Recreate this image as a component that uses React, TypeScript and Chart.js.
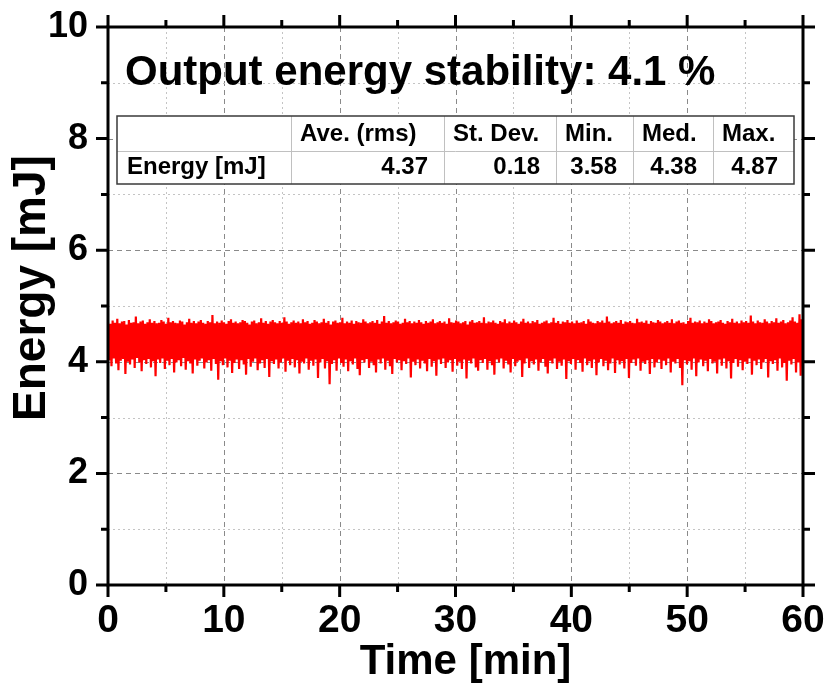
import React, { useEffect, useRef } from "react";
import { Chart, registerables } from "chart.js";

Chart.register(...registerables);

// Upper excursions of the pulse-energy trace (mJ), in time order
const peaks = [
  4.71, 4.68, 4.74, 4.70, 4.77, 4.69, 4.72, 4.73, 4.67, 4.75, 4.70, 4.71, 4.81, 4.69, 4.72, 4.74, 4.68, 4.71, 4.76, 4.70,
  4.73, 4.69, 4.70, 4.75, 4.72, 4.68, 4.79, 4.71, 4.73, 4.70, 4.69, 4.74, 4.72, 4.67, 4.71, 4.77, 4.70, 4.73, 4.69, 4.72,
  4.75, 4.70, 4.68, 4.73, 4.71, 4.84, 4.69, 4.72, 4.70, 4.74, 4.71, 4.68, 4.73, 4.76, 4.70, 4.72, 4.69, 4.71, 4.75, 4.73,
  4.70, 4.67, 4.72, 4.74, 4.69, 4.71, 4.78, 4.70, 4.73, 4.68, 4.72, 4.75, 4.71, 4.69, 4.73, 4.70, 4.80, 4.72, 4.68, 4.71,
  4.74, 4.70, 4.72, 4.69, 4.76, 4.71, 4.73, 4.68, 4.70, 4.75, 4.72, 4.69, 4.71, 4.77, 4.70, 4.73, 4.67, 4.72, 4.74, 4.70,
  4.71, 4.79, 4.69, 4.72, 4.70, 4.74, 4.68, 4.73, 4.71, 4.70, 4.76, 4.72, 4.69, 4.71, 4.73, 4.70, 4.75, 4.68, 4.72, 4.82,
  4.70, 4.73, 4.69, 4.71, 4.74, 4.72, 4.68, 4.70, 4.77, 4.71, 4.73, 4.69, 4.72, 4.70, 4.75, 4.71, 4.68, 4.73, 4.70, 4.72,
  4.76, 4.69, 4.71, 4.73, 4.70, 4.72, 4.68, 4.78, 4.71, 4.70, 4.74, 4.72, 4.69, 4.71, 4.73, 4.67, 4.72, 4.75, 4.70, 4.71,
  4.73, 4.70, 4.80, 4.69, 4.72, 4.71, 4.74, 4.70, 4.68, 4.73, 4.71, 4.76, 4.69, 4.72, 4.70, 4.74, 4.71, 4.68, 4.72, 4.77,
  4.70, 4.72, 4.69, 4.73, 4.71, 4.75, 4.68, 4.70, 4.72, 4.74, 4.69, 4.71, 4.79, 4.70, 4.73, 4.68, 4.72, 4.71, 4.75, 4.70,
  4.72, 4.69, 4.74, 4.70, 4.71, 4.73, 4.68, 4.76, 4.72, 4.70, 4.69, 4.73, 4.71, 4.74, 4.70, 4.81, 4.72, 4.69, 4.71, 4.73,
  4.70, 4.75, 4.68, 4.72, 4.71, 4.73, 4.70, 4.69, 4.77, 4.71, 4.72, 4.70, 4.74, 4.68, 4.73, 4.71, 4.70, 4.75, 4.72, 4.69,
  4.71, 4.73, 4.70, 4.76, 4.69, 4.72, 4.74, 4.70, 4.71, 4.68, 4.73, 4.79, 4.70, 4.72, 4.71, 4.74, 4.69, 4.72, 4.70, 4.76,
  4.73, 4.69, 4.71, 4.72, 4.75, 4.70, 4.68, 4.73, 4.71, 4.77, 4.70, 4.72, 4.69, 4.74, 4.71, 4.73, 4.70, 4.83, 4.72, 4.69,
  4.74, 4.71, 4.70, 4.76, 4.72, 4.69, 4.73, 4.71, 4.78, 4.70, 4.72, 4.75, 4.69, 4.71, 4.74, 4.80, 4.72, 4.70, 4.85, 4.76,
];

// Lower excursions of the pulse-energy trace (mJ), in time order
const troughs = [
  4.03, 3.92, 4.06, 3.97, 3.85, 4.02, 4.05, 3.78, 4.00, 3.95, 4.04, 3.89, 4.07, 3.99, 3.83, 4.03, 3.96, 4.05, 3.90, 4.01,
  3.74, 4.04, 3.98, 4.06, 3.87, 4.02, 3.94, 4.05, 3.81, 3.99, 4.03, 3.92, 4.07, 3.86, 4.01, 3.97, 3.79, 4.04, 3.93, 4.02,
  4.06, 3.88, 3.99, 4.03, 3.84, 4.05, 3.96, 3.68, 4.01, 3.94, 4.06, 3.90, 4.02, 3.80, 3.98, 4.04, 3.87, 4.03, 3.95, 3.77,
  4.05, 3.91, 4.00, 4.06, 3.85, 3.97, 4.03, 3.89, 4.05, 3.73, 4.01, 3.96, 4.04, 3.88, 3.99, 4.06, 3.82, 4.02, 3.94, 4.05,
  3.90, 4.03, 3.79, 4.00, 3.97, 4.06, 3.86, 4.02, 3.93, 4.04, 3.71, 3.99, 4.05, 3.88, 4.01, 3.60, 3.96, 4.03, 3.84, 4.06,
  3.98, 3.91, 4.04, 3.83, 4.01, 3.95, 4.06, 3.87, 3.76, 4.03, 3.99, 4.05, 3.89, 4.00, 3.94, 3.81, 4.04, 3.97, 4.06, 3.86,
  4.02, 3.92, 3.78, 4.05, 3.99, 4.03, 3.85, 4.01, 3.96, 4.06, 3.72, 4.00, 3.94, 4.04, 3.88, 4.02, 3.97, 3.83, 4.05, 3.91,
  4.01, 3.75, 4.04, 3.96, 4.06, 3.89, 3.99, 4.03, 3.82, 4.05, 3.93, 4.00, 3.87, 4.04, 3.70, 4.02, 3.97, 4.06, 3.90, 3.84,
  4.03, 3.98, 4.05, 3.86, 4.01, 3.94, 3.77, 4.04, 3.99, 4.06, 3.88, 4.02, 3.95, 3.81, 4.05, 3.92, 4.00, 4.03, 3.73, 3.97,
  4.06, 3.89, 4.01, 3.95, 4.04, 3.84, 3.99, 4.05, 3.91, 3.79, 4.02, 3.97, 4.06, 3.87, 4.00, 3.93, 4.04, 3.69, 4.01, 3.96,
  4.05, 3.86, 4.03, 3.98, 3.82, 4.06, 3.94, 4.01, 3.89, 4.04, 3.76, 3.99, 4.05, 3.92, 4.02, 3.85, 3.97, 4.06, 3.80, 4.03,
  3.95, 4.01, 3.88, 4.05, 3.71, 3.98, 4.04, 3.93, 4.06, 3.84, 4.00, 3.96, 4.03, 3.78, 4.05, 3.90, 3.99, 4.04, 3.87, 4.02,
  3.94, 4.06, 3.81, 4.00, 3.97, 4.05, 3.89, 3.58, 4.03, 3.95, 4.01, 3.86, 4.06, 3.74, 3.99, 4.04, 3.92, 4.02, 3.83, 4.05,
  3.97, 4.00, 3.79, 4.04, 3.93, 4.06, 3.88, 4.01, 3.70, 3.98, 4.05, 3.91, 4.03, 3.85, 4.00, 3.96, 4.06, 3.77, 4.02, 3.94,
  4.04, 3.87, 3.99, 4.05, 3.72, 4.01, 3.96, 4.03, 3.84, 4.06, 3.90, 3.98, 3.66, 4.02, 3.95, 4.05, 3.81, 3.99, 3.75, 3.92,
];

const durationMin = 60;
const xMajorStep = 10;
const xMinorStep = 5;
const yMax = 10;
const yMajorStep = 2;
const yMinorStep = 1;

const tableHeaders = ["", "Ave. (rms)", "St. Dev.", "Min.", "Med.", "Max."];
const tableRow = ["Energy [mJ]", "4.37", "0.18", "3.58", "4.38", "4.87"];

const titleText = "Output energy stability: 4.1 %";
const xTitle = "Time [min]";
const yTitle = "Energy [mJ]";

const FONT = "'Liberation Sans', Arial, sans-serif";

const decorPlugin = {
  id: "decor",
  beforeDatasetsDraw(chart: any) {
    const { ctx, chartArea: a, scales } = chart;
    const x = scales.x;
    const y = scales.y;
    ctx.save();
    ctx.lineWidth = 1;
    for (let v = xMinorStep; v < durationMin; v += xMinorStep) {
      const px = Math.round(x.getPixelForValue(v)) + 0.5;
      const major = v % xMajorStep === 0;
      ctx.strokeStyle = major ? "#8a8a8a" : "#c4c4c4";
      ctx.setLineDash(major ? [5, 4] : [2, 3]);
      ctx.beginPath();
      ctx.moveTo(px, a.top);
      ctx.lineTo(px, a.bottom);
      ctx.stroke();
    }
    for (let v = yMinorStep; v < yMax; v += yMinorStep) {
      const py = Math.round(y.getPixelForValue(v)) + 0.5;
      const major = v % yMajorStep === 0;
      ctx.strokeStyle = major ? "#8a8a8a" : "#c4c4c4";
      ctx.setLineDash(major ? [5, 4] : [2, 3]);
      ctx.beginPath();
      ctx.moveTo(a.left, py);
      ctx.lineTo(a.right, py);
      ctx.stroke();
    }
    ctx.restore();
  },
  afterDatasetsDraw(chart: any) {
    const { ctx, chartArea: a, scales } = chart;
    const x = scales.x;
    const y = scales.y;
    ctx.save();
    ctx.setLineDash([]);
    ctx.strokeStyle = "#000";
    ctx.lineWidth = 3;
    ctx.lineCap = "butt";
    // frame
    ctx.strokeRect(a.left, a.top, a.right - a.left, a.bottom - a.top);
    // ticks on all four sides
    for (let v = 0; v <= durationMin; v += xMinorStep) {
      const px = x.getPixelForValue(v);
      const len = v % xMajorStep === 0 ? 12 : 7;
      ctx.beginPath();
      ctx.moveTo(px, a.bottom);
      ctx.lineTo(px, a.bottom + len);
      ctx.moveTo(px, a.top);
      ctx.lineTo(px, a.top - len);
      ctx.stroke();
    }
    for (let v = 0; v <= yMax; v += yMinorStep) {
      const py = y.getPixelForValue(v);
      const len = v % yMajorStep === 0 ? 12 : 7;
      ctx.beginPath();
      ctx.moveTo(a.left, py);
      ctx.lineTo(a.left - len, py);
      ctx.moveTo(a.right, py);
      ctx.lineTo(a.right + len, py);
      ctx.stroke();
    }

    // stats table
    const cols = [a.left + 9, a.left + 183, a.left + 336, a.left + 448, a.left + 525, a.left + 605, a.left + 686];
    const rows = [a.top + 89, a.top + 124, a.top + 157];
    ctx.fillStyle = "#fff";
    ctx.fillRect(cols[0], rows[0], cols[6] - cols[0], rows[2] - rows[0]);
    ctx.lineWidth = 1;
    ctx.strokeStyle = "#c0c0c0";
    ctx.beginPath();
    for (let i = 1; i < cols.length - 1; i++) {
      ctx.moveTo(cols[i] + 0.5, rows[0]);
      ctx.lineTo(cols[i] + 0.5, rows[2]);
    }
    ctx.moveTo(cols[0], rows[1] + 0.5);
    ctx.lineTo(cols[6], rows[1] + 0.5);
    ctx.stroke();
    ctx.strokeStyle = "#3a3a3a";
    ctx.lineWidth = 1.5;
    ctx.strokeRect(cols[0], rows[0], cols[6] - cols[0], rows[2] - rows[0]);

    ctx.fillStyle = "#000";
    ctx.font = `bold 24px ${FONT}`;
    ctx.textBaseline = "alphabetic";
    ctx.textAlign = "left";
    tableHeaders.forEach((h, i) => {
      if (h) ctx.fillText(h, cols[i] + 9, rows[0] + 25);
    });
    tableRow.forEach((v, i) => {
      if (i === 0) {
        ctx.textAlign = "left";
        ctx.fillText(v, cols[0] + 10, rows[1] + 23);
      } else {
        ctx.textAlign = "right";
        ctx.fillText(v, cols[i + 1] - 16, rows[1] + 23);
      }
    });

    // inner title
    ctx.textAlign = "left";
    ctx.font = `bold 42px ${FONT}`;
    ctx.fillText(titleText, a.left + 17, a.top + 58);

    // axis titles
    ctx.textAlign = "center";
    ctx.textBaseline = "middle";
    ctx.font = `bold 42px ${FONT}`;
    ctx.fillText(xTitle, (a.left + a.right) / 2 + 10, a.bottom + 77);
    ctx.save();
    ctx.translate(32, (a.top + a.bottom) / 2 - 18);
    ctx.rotate(-Math.PI / 2);
    ctx.font = `bold 46px ${FONT}`;
    ctx.fillText(yTitle, 0, 0);
    ctx.restore();

    ctx.restore();
  },
};

export default function App() {
  const canvasRef = useRef<HTMLCanvasElement>(null);

  useEffect(() => {
    const canvas = canvasRef.current;
    if (!canvas) return;
    const energy: number[] = [];
    peaks.forEach((p, i) => {
      energy.push(p);
      energy.push(troughs[i]);
    });
    const n = energy.length;
    const points = energy.map((v, k) => ({ x: (k * durationMin) / (n - 1), y: v }));

    const chart = new Chart(canvas, {
      type: "line",
      data: {
        datasets: [
          {
            label: "Energy",
            data: points,
            borderColor: "#ff0000",
            backgroundColor: "#ff0000",
            borderWidth: 2.2,
            pointRadius: 0,
            tension: 0,
            fill: false,
          },
        ],
      },
      options: {
        animation: false,
        responsive: false,
        devicePixelRatio: 1,
        layout: { padding: { top: 27, right: 26, left: 0, bottom: 0 } },
        plugins: {
          legend: { display: false },
          tooltip: { enabled: false },
          title: { display: false },
        },
        scales: {
          x: {
            type: "linear",
            min: 0,
            max: durationMin,
            grid: { display: false, drawTicks: false },
            border: { display: false },
            ticks: {
              stepSize: xMinorStep,
              padding: 13,
              color: "#000",
              font: { family: FONT, size: 39, weight: "bold" },
              maxRotation: 0,
              autoSkip: false,
              callback: (v: any) => (Number(v) % xMajorStep === 0 ? String(v) : ""),
            },
            afterFit: (s: any) => {
              s.height = 101;
              s.paddingLeft = 0;
              s.paddingRight = 0;
            },
          },
          y: {
            min: 0,
            max: yMax,
            grid: { display: false, drawTicks: false },
            border: { display: false },
            ticks: {
              stepSize: yMinorStep,
              padding: 20,
              color: "#000",
              font: { family: FONT, size: 36, weight: "bold" },
              autoSkip: false,
              callback: (v: any) => (Number(v) % yMajorStep === 0 ? String(v) : ""),
            },
            afterFit: (s: any) => {
              s.width = 108;
              s.paddingTop = 0;
              s.paddingBottom = 0;
            },
          },
        },
      },
      plugins: [decorPlugin],
    });

    return () => chart.destroy();
  }, []);

  return (
    <div style={{ position: "absolute", left: 0, top: 0, width: 829, height: 686, background: "#fff" }}>
      <canvas ref={canvasRef} width={829} height={686} style={{ width: 829, height: 686, display: "block" }} />
    </div>
  );
}
